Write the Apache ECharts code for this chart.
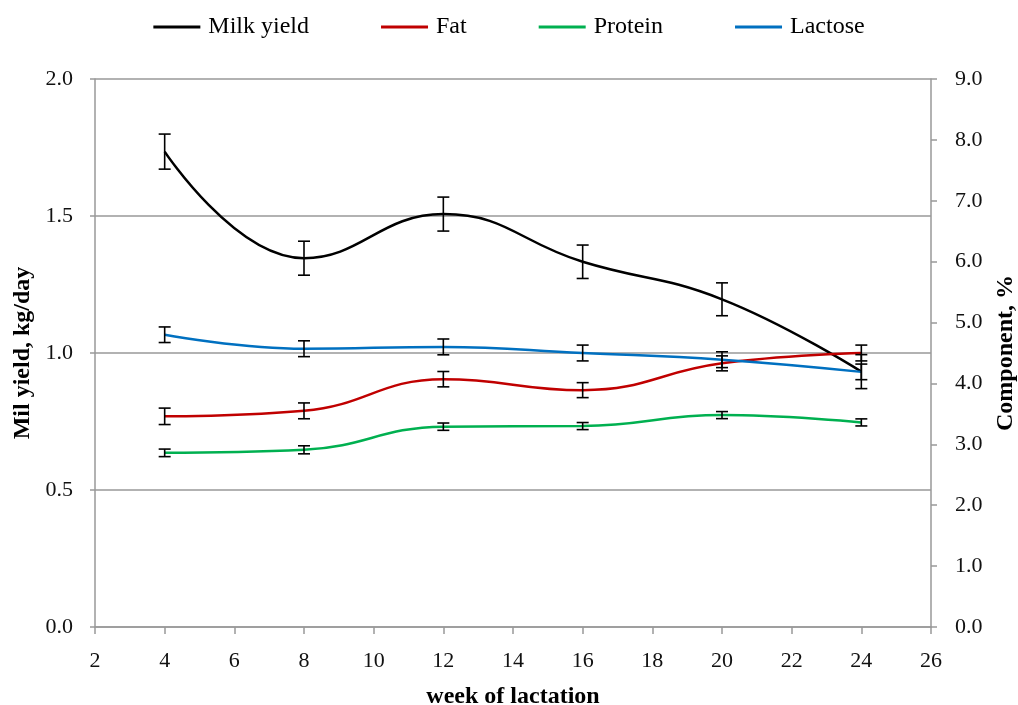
<!DOCTYPE html>
<html>
<head>
<meta charset="utf-8">
<script src="https://cdn.jsdelivr.net/npm/echarts@6/dist/echarts.min.js"></script>
<style>html,body{margin:0;padding:0;background:#fff}#c{width:1018px;height:705px}</style>
</head>
<body>
<div id="c"></div>
<script>
const weeks = [4, 8, 12, 16, 20, 24];
const milkYield = [1.735, 1.346, 1.507, 1.333, 1.196, 0.932];
const milkSE = [0.064, 0.062, 0.062, 0.061, 0.060, 0.062];
const fat = [3.46, 3.55, 4.07, 3.89, 4.33, 4.50];
const fatSE = [0.135, 0.13, 0.126, 0.123, 0.123, 0.13];
const protein = [2.86, 2.91, 3.29, 3.30, 3.48, 3.36];
const proteinSE = [0.062, 0.066, 0.06, 0.058, 0.058, 0.058];
const lactose = [4.80, 4.57, 4.60, 4.50, 4.39, 4.19];
const lactoseSE = [0.128, 0.13, 0.13, 0.13, 0.13, 0.128];
const seriesNames = ['Milk yield', 'Fat', 'Protein', 'Lactose'];
const colors = ['#000000', '#C00000', '#00B050', '#0070C0'];

const FONT = '"Liberation Serif", "DejaVu Serif", serif';
const pairs = (vals) => weeks.map((w, i) => [w, vals[i]]);
const errPairs = (vals, se) => weeks.map((w, i) => [w, vals[i], se[i]]);

function renderErr(params, api) {
  const x = api.value(0), v = api.value(1), e = api.value(2);
  const hi = api.coord([x, v + e]);
  const lo = api.coord([x, v - e]);
  const w = 6;
  const st = { stroke: '#000', lineWidth: 1.6 };
  return {
    type: 'group',
    children: [
      { type: 'line', shape: { x1: hi[0], y1: hi[1], x2: lo[0], y2: lo[1] }, style: st },
      { type: 'line', shape: { x1: hi[0] - w, y1: hi[1], x2: hi[0] + w, y2: hi[1] }, style: st },
      { type: 'line', shape: { x1: lo[0] - w, y1: lo[1], x2: lo[0] + w, y2: lo[1] }, style: st }
    ]
  };
}

const lineData = [milkYield, fat, protein, lactose];
const seData = [milkSE, fatSE, proteinSE, lactoseSE];
const axisIdx = [0, 1, 1, 1];

const series = [];
lineData.forEach((d, i) => {
  series.push({
    name: seriesNames[i], type: 'line', yAxisIndex: axisIdx[i],
    data: pairs(d), smooth: 0.45, symbol: 'none', showSymbol: false,
    lineStyle: { color: colors[i], width: 2.5 }, itemStyle: { color: colors[i] },
    z: 2
  });
});
lineData.forEach((d, i) => {
  series.push({
    type: 'custom', yAxisIndex: axisIdx[i], renderItem: renderErr,
    data: errPairs(d, seData[i]), z: 3, silent: true
  });
});

const axisLineStyle = { color: '#999999', width: 1.5 };
const labelStyle = { color: '#111', fontFamily: FONT, fontSize: 22 };
const nameStyle = { color: '#000', fontFamily: FONT, fontSize: 24, fontWeight: 'bold' };

const option = {
  animation: false,
  backgroundColor: '#fff',
  color: colors,
  legend: {
    data: seriesNames, top: 10, left: 'center',
    icon: 'rect', itemWidth: 47, itemHeight: 3, itemGap: 72,
    textStyle: { fontFamily: FONT, fontSize: 24, color: '#000', padding: [0, 0, 0, 3] }
  },
  grid: { left: 95, right: 87, top: 79, bottom: 78, containLabel: false, outerBoundsMode: 'none' },
  xAxis: {
    type: 'value', min: 2, max: 26, interval: 2,
    name: 'week of lactation', nameLocation: 'middle', nameGap: 58, nameTextStyle: nameStyle,
    axisLine: { show: true, lineStyle: axisLineStyle },
    axisTick: { show: true, length: 7, lineStyle: axisLineStyle },
    axisLabel: Object.assign({ margin: 23 }, labelStyle),
    splitLine: { show: false }
  },
  yAxis: [
    {
      type: 'value', min: 0, max: 2, interval: 0.5, position: 'left',
      name: 'Mil yield, kg/day', nameLocation: 'middle', nameGap: 58, nameTextStyle: nameStyle,
      axisLine: { show: true, lineStyle: axisLineStyle },
      axisTick: { show: true, length: 5, lineStyle: axisLineStyle },
      axisLabel: Object.assign({ margin: 22, formatter: v => v.toFixed(1) }, labelStyle),
      splitLine: { show: true, lineStyle: { color: '#999999', width: 1.5 } }
    },
    {
      type: 'value', min: 0, max: 9, interval: 1, position: 'right',
      name: 'Component, %', nameLocation: 'middle', nameGap: 63, nameRotate: 90, nameTextStyle: nameStyle,
      axisLine: { show: true, lineStyle: axisLineStyle },
      axisTick: { show: true, length: 6, lineStyle: axisLineStyle },
      axisLabel: Object.assign({ margin: 24, formatter: v => v.toFixed(1) }, labelStyle),
      splitLine: { show: false }
    }
  ],
  series: series
};

echarts.init(document.getElementById('c'), null, { renderer: 'canvas' }).setOption(option);
</script>
</body>
</html>
